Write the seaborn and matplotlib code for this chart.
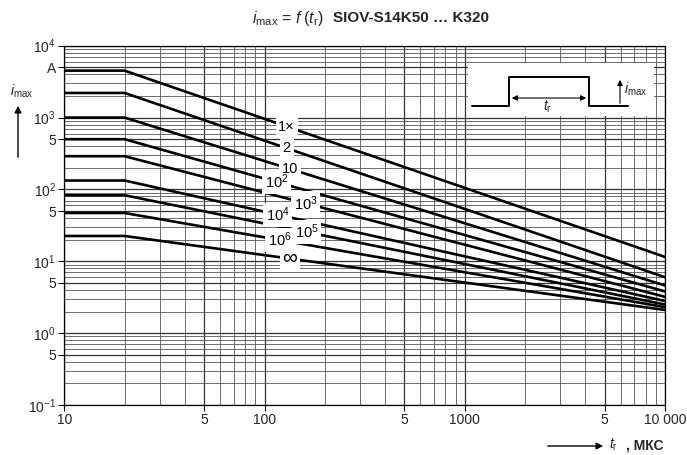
"""
SIOV-S14K50 ... K320: i_max = f(t_r), derating curves
"""
import numpy as np
import pandas as pd
import matplotlib
matplotlib.use("Agg")
import matplotlib.pyplot as plt
import seaborn as sns

# values
t_points = [10, 20, 10000]  # мкс
curve_labels = ["1×", "2", "10", "10$^2$", "10$^3$", "10$^4$", "10$^5$", "10$^6$", "∞"]
i_start = [4500, 2200, 1000, 500, 290, 133, 83, 47, 22.5]   # flat part, A
i_end = [11.5, 6.0, 4.6, 3.8, 3.2, 2.8, 2.5, 2.3, 2.1]       # at 10000 мкс
label_t = [129, 129, 134, 115, 160, 116, 162, 119, 134]       # where each label sits

x_ticks = [10, 50, 100, 500, 1000, 5000, 10000]
x_ticklabels = ["10", "5", "100", "5", "1000", "5", "10 000"]
y_ticks = [0.1, 0.5, 1, 5, 10, 50, 100, 500, 1000, 5000, 10000]
y_ticklabels = ["10$^{-1}$", "5", "10$^0$", "5", "10$^1$", "5", "10$^2$", "5",
                "10$^3$", "A", "10$^4$"]

sns.set_style("white")
plt.rcParams["font.family"] = ["Liberation Sans", "DejaVu Sans"]
plt.rcParams["mathtext.fontset"] = "custom"
plt.rcParams["mathtext.rm"] = "Liberation Sans"
plt.rcParams["mathtext.it"] = "Liberation Sans:italic"
plt.rcParams["mathtext.bf"] = "Liberation Sans:bold"

rows = []
for lab, a, b in zip(curve_labels, i_start, i_end):
    for t, i in zip(t_points, [a, a, b]):
        rows.append({"t": t, "i": i, "curve": lab})
df = pd.DataFrame(rows)

fig = plt.figure(figsize=(6.87, 4.55), dpi=100)
ax = fig.add_axes([64.3 / 687, 1 - 405 / 455, (665 - 64.3) / 687, (405 - 45.7) / 455])

sns.lineplot(data=df, x="t", y="i", hue="curve", hue_order=curve_labels,
             palette=["black"] * len(curve_labels), legend=False,
             linewidth=1.9, estimator=None, sort=False, ax=ax, zorder=3)

ax.set_xscale("log")
ax.set_yscale("log")
ax.set_xlim(10, 10000)
ax.set_ylim(0.1, 10000)

ax.grid(which="major", color="#333333", linewidth=0.9)
ax.grid(which="minor", color="#555555", linewidth=0.6)
ax.set_axisbelow(True)

ax.set_xticks(x_ticks)
ax.set_xticklabels(x_ticklabels, fontsize=10)
ax.set_yticks(y_ticks)
ax.set_yticklabels(y_ticklabels, fontsize=10)
ax.tick_params(which="major", direction="out", length=4, width=0.8, color="black", pad=2,
               left=True, bottom=True)
ax.tick_params(which="minor", length=0)
for sp in ax.spines.values():
    sp.set_color("black")
    sp.set_linewidth(0.9)
ax.set_xlabel("")
ax.set_ylabel("")

# curve labels: white boxes break the lines, text drawn over all boxes
lt = np.log10(t_points)
for lab, a, b, tx in zip(curve_labels, i_start, i_end, label_t):
    ly = 10 ** np.interp(np.log10(tx), lt, np.log10([a, a, b]))
    fs = 15 if lab == "∞" else 10.5
    ax.text(tx, ly, lab, ha="center", va="center", fontsize=fs, zorder=5, color="white",
            bbox=dict(facecolor="white", edgecolor="none", pad=2.0))
    ax.text(tx, ly, lab, ha="center", va="center", fontsize=fs, zorder=6, color="black")

# titles
fig.text(288 / 687, 1 - 18 / 455, r"$i_{\rm max}$ = $f\;(t_{\rm r})$", ha="center",
         va="center", fontsize=11.5)
fig.text(411 / 687, 1 - 18 / 455, "SIOV-S14K50 … K320", ha="center", va="center",
         fontsize=11, fontweight="bold")

# y axis label with arrow
fig.text(22 / 687, 1 - 91 / 455, r"$i_{\rm max}$", ha="center", va="center", fontsize=10)
fig.patches.append(matplotlib.patches.FancyArrowPatch(
    (18 / 687, 1 - 160 / 455), (18 / 687, 1 - 103 / 455), transform=fig.transFigure,
    arrowstyle="-|>", mutation_scale=10, color="black", linewidth=1.0))

# x axis label with arrow
fig.patches.append(matplotlib.patches.FancyArrowPatch(
    (545 / 687, 1 - 446 / 455), (606 / 687, 1 - 446 / 455), transform=fig.transFigure,
    arrowstyle="-|>", mutation_scale=10, color="black", linewidth=1.0))
fig.text(609 / 687, 1 - 445 / 455, r"$t_{\rm r}$", ha="left", va="center", fontsize=10)
fig.text(626 / 687, 1 - 446 / 455, ", МКС", ha="left", va="center", fontsize=10,
         fontweight="bold")

# pulse sketch in upper right
ins = fig.add_axes([468 / 687, 1 - 116 / 455, 186 / 687, 53 / 455])
ins.set_xlim(0, 186)
ins.set_ylim(53, 0)
ins.axis("off")
ins.add_patch(matplotlib.patches.Rectangle((0, 0), 186, 53, facecolor="white",
                                           edgecolor="none"))
ins.plot([4, 41, 41, 121, 121, 160], [43, 43, 14, 14, 43, 43], color="black", lw=1.4)
ins.annotate("", xy=(41, 35), xytext=(121, 35),
             arrowprops=dict(arrowstyle="<|-|>", color="black", lw=0.8, mutation_scale=8))
ins.text(79, 44, r"$t_{\rm r}$", ha="center", va="center", fontsize=10)
ins.annotate("", xy=(152, 14), xytext=(152, 43),
             arrowprops=dict(arrowstyle="-|>", color="black", lw=0.8, mutation_scale=8))
ins.text(156, 26, r"$i_{\rm max}$", ha="left", va="center", fontsize=10)

fig.savefig("out.png", dpi=100)
